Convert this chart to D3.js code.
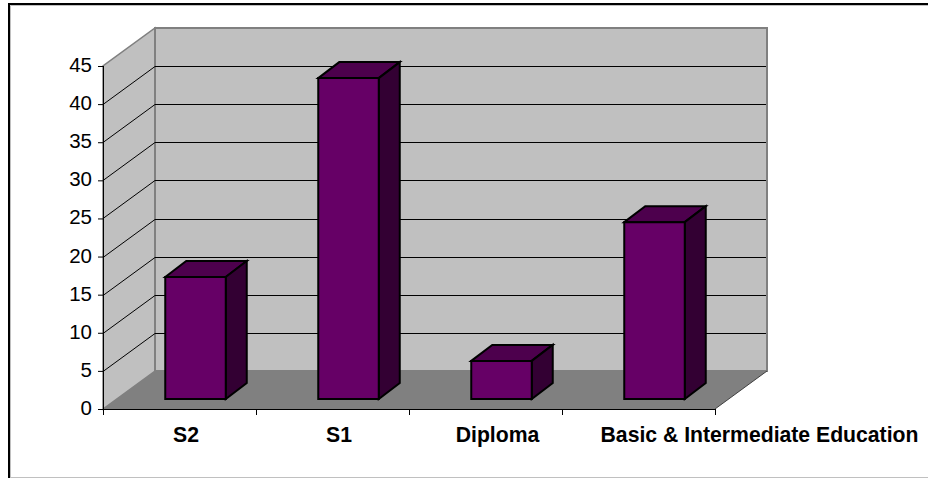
<!DOCTYPE html>
<html>
<head>
<meta charset="utf-8">
<script src="https://cdn.jsdelivr.net/npm/d3@7"></script>
<style>
  html, body { margin: 0; padding: 0; background: #fff; }
  svg { display: block; }
  text { font-family: "Liberation Sans", Arial, sans-serif; fill: #000; }
</style>
</head>
<body>
<div id="graph"></div>
<script>
// Chart data
const categories = ['S2', 'S1', 'Diploma', 'Basic & Intermediate Education'];
const values = [16, 42.1, 5, 23.2];
const yTicks = [0, 5, 10, 15, 20, 25, 30, 35, 40, 45];

// Set up SVG canvas dimensions
const width = 928;
const height = 478;
const plot = { left: 103, right: 715, top: 66, bottom: 409 };

// 3D offsets: back wall and bar depth
const wallDx = 52, wallDy = -38;
const barDx = 21, barDy = -16;
const barShiftX = 16, barShiftY = -10;
const barWidth = 60.5;

// Category labels do not sit at the band centre in the original
const labelShift = [6.5, 6.5, 12, 121];

const svg = d3.select('#graph').append('svg')
    .attr('width', width)
    .attr('height', height);

// Outer frame: black top and left, thin grey shade inside and at the bottom
svg.append('path')
    .attr('d', 'M10.5,478V5.5H928M10,477.5H928')
    .attr('fill', 'none').attr('stroke', '#c0c0c0').attr('stroke-width', 1);
svg.append('path')
    .attr('d', 'M9,478V4H928')
    .attr('fill', 'none').attr('stroke', '#000').attr('stroke-width', 2);

// Scales
const xScale = d3.scaleBand()
    .domain(categories)
    .range([plot.left, plot.right]);

const yScale = d3.scaleLinear()
    .domain([0, 45])
    .range([plot.bottom, plot.top]);

const poly = pts => 'M' + pts.map(p => p.join(',')).join('L') + 'Z';
const y0 = yScale(0), y45 = yScale(45);
const xl = plot.left, xr = plot.right;

// Side wall, back wall and floor
svg.append('path')
    .attr('d', poly([[xl, y0], [xl, y45], [xl + wallDx, y45 + wallDy], [xl + wallDx, y0 + wallDy]]))
    .attr('fill', '#c0c0c0').attr('stroke', '#808080').attr('stroke-width', 1.5);
svg.append('path')
    .attr('d', poly([[xl + wallDx, y0 + wallDy], [xl + wallDx, y45 + wallDy], [xr + wallDx, y45 + wallDy], [xr + wallDx, y0 + wallDy]]))
    .attr('fill', '#c0c0c0').attr('stroke', '#808080').attr('stroke-width', 2);
svg.append('path')
    .attr('d', poly([[xl, y0], [xl + wallDx, y0 + wallDy], [xr + wallDx, y0 + wallDy], [xr, y0]]))
    .attr('fill', '#808080').attr('stroke', 'none');

// Gridlines along side wall and back wall (none at 0 and at the top)
svg.append('g').selectAll('path')
    .data(yTicks.slice(1, -1))
    .enter().append('path')
    .attr('d', d => {
        const y = Math.round(yScale(d)) + 0.5;
        return `M${xl},${y}L${xl + wallDx},${y + wallDy}L${xr + wallDx - 1},${y + wallDy}`;
    })
    .attr('fill', 'none').attr('stroke', '#000').attr('stroke-width', 1);

// Floor edge on the right
svg.append('path')
    .attr('d', `M${xr},${y0}L${xr + wallDx},${y0 + wallDy}`)
    .attr('fill', 'none').attr('stroke', '#404040').attr('stroke-width', 1);

// Bars
const bars = svg.append('g').selectAll('g')
    .data(values)
    .enter().append('g')
    .attr('stroke', '#000').attr('stroke-width', 2).attr('stroke-linejoin', 'miter');

const barX = i => xScale(categories[i]) + (xScale.bandwidth() - barWidth) / 2 + barShiftX;
const barBase = y0 + barShiftY;

bars.append('path') // top
    .attr('d', (d, i) => {
        const x = barX(i), t = barBase - (y0 - yScale(d));
        return poly([[x, t], [x + barDx, t + barDy], [x + barWidth + barDx, t + barDy], [x + barWidth, t]]);
    })
    .attr('fill', '#4d004d');
bars.append('path') // side
    .attr('d', (d, i) => {
        const x = barX(i) + barWidth, t = barBase - (y0 - yScale(d));
        return poly([[x, t], [x + barDx, t + barDy], [x + barDx, barBase + barDy], [x, barBase]]);
    })
    .attr('fill', '#330033');
bars.append('path') // front
    .attr('d', (d, i) => {
        const x = barX(i), t = barBase - (y0 - yScale(d));
        return poly([[x, t], [x + barWidth, t], [x + barWidth, barBase], [x, barBase]]);
    })
    .attr('fill', '#660066');

// Y axis
const yAxis = svg.append('g')
    .attr('transform', `translate(${xl}, 0)`)
    .call(d3.axisLeft(yScale).tickValues(yTicks).tickSize(5).tickPadding(6));
yAxis.select('.domain').attr('stroke', '#000').attr('d', `M0.5,${y0}V${y45}`);
yAxis.selectAll('text').attr('font-size', 20.5).attr('dy', '0.27em')
    .style('font-family', '"Liberation Sans", Arial, sans-serif');

// X axis
const xAxis = svg.append('g')
    .attr('transform', `translate(0, ${y0})`)
    .call(d3.axisBottom(xScale).tickSize(0).tickPadding(0));
xAxis.select('.domain').attr('stroke', '#000').attr('d', `M${xl},0.5H${xr}`);
xAxis.selectAll('.tick text')
    .attr('font-size', 21.2).attr('font-weight', 'bold')
    .style('font-family', '"Liberation Sans", Arial, sans-serif')
    .attr('dy', null).attr('y', 33)
    .attr('x', (d, i) => labelShift[i]);
xAxis.selectAll('.tick line').remove();

// Tick marks between categories
svg.append('g').selectAll('line')
    .data([xl, ...categories.map(c => xScale(c) + xScale.bandwidth())])
    .enter().append('line')
    .attr('x1', d => Math.round(d) + 0.5).attr('x2', d => Math.round(d) + 0.5)
    .attr('y1', y0).attr('y2', y0 + 6)
    .attr('stroke', '#000');
</script>
</body>
</html>
